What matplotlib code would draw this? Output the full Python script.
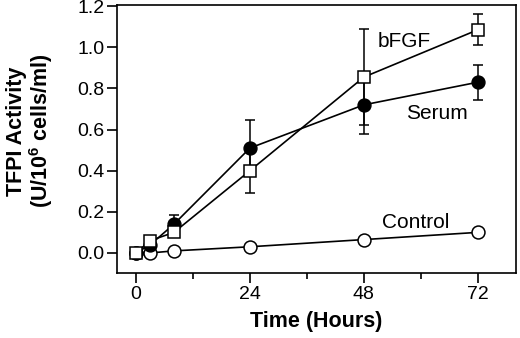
import numpy as np
import matplotlib
matplotlib.use('Agg')
import matplotlib.pyplot as plt
from matplotlib.ticker import MultipleLocator

plt.rcParams['font.family'] = ['Liberation Sans', 'DejaVu Sans']
plt.rcParams['mathtext.fontset'] = 'custom'
plt.rcParams['mathtext.bf'] = 'Liberation Sans:bold'
plt.rcParams['mathtext.rm'] = 'Liberation Sans:bold'
plt.rcParams['mathtext.default'] = 'bf'

# data
hours = [0, 3, 8, 24, 48, 72]
control = [0.0, 0.0, 0.01, 0.03, 0.065, 0.10]
serum = [0.0, 0.04, 0.14, 0.51, 0.72, 0.83]
serum_err = [0, 0, 0.045, 0.135, 0.14, 0.085]
bfgf = [0.0, 0.06, 0.10, 0.40, 0.855, 1.085]
bfgf_err = [0, 0, 0, 0.11, 0.235, 0.075]

fig = plt.figure(figsize=(5.2, 3.38), dpi=100)
ax = fig.add_axes([0.225, 0.192, 0.767, 0.793])

lw = 1.2
ax.plot(hours, control, '-o', color='black', mfc='white', mec='black',
        ms=9.3, lw=lw, mew=1.1, zorder=2)
ax.errorbar(hours, serum, yerr=serum_err, fmt='-o', color='black', mfc='black',
            ms=9.3, lw=lw, elinewidth=1.1, capsize=3.3, capthick=1.1, zorder=3)
ax.errorbar(hours, bfgf, yerr=bfgf_err, fmt='-s', color='black', mfc='white',
            mec='black', ms=8.7, lw=lw, mew=1.1, elinewidth=1.1, capsize=3.3,
            capthick=1.1, zorder=4)

ax.text(50.8, 1.03, 'bFGF', fontsize=15, va='center', ha='left')
ax.text(56.9, 0.68, 'Serum', fontsize=15, va='center', ha='left')
ax.text(51.9, 0.15, 'Control', fontsize=15, va='center', ha='left')

ax.set_xlim(-4, 80)
ax.set_ylim(-0.098, 1.205)
ax.set_xticks([0, 24, 48, 72])
ax.xaxis.set_minor_locator(MultipleLocator(12))
ax.set_yticks(np.arange(0, 1.21, 0.2))
ax.set_yticklabels(['%.1f' % v for v in np.arange(0, 1.21, 0.2)])

for s in ax.spines.values():
    s.set_linewidth(1.2)
ax.tick_params(which='major', direction='out', length=7, width=1.2, labelsize=14, pad=2)
ax.tick_params(which='minor', direction='out', length=4, width=1.2)

ax.set_xlabel('Time (Hours)', fontsize=15.5, fontweight='bold', labelpad=6)
ax.set_ylabel('TFPI Activity\n(U/10$^6$ cells/ml)', fontsize=15.5,
              fontweight='bold', linespacing=1.0)
ax.yaxis.set_label_coords(-0.155, 0.53)

fig.savefig('out.png', dpi=100)
